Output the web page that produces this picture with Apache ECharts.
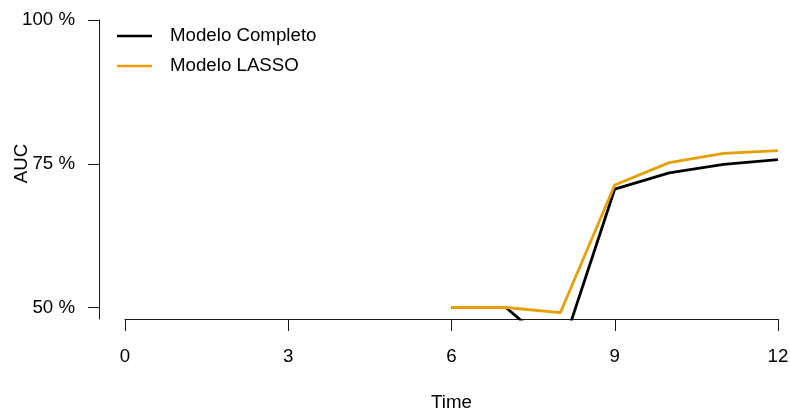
<!DOCTYPE html>
<html>
<head>
<meta charset="utf-8">
<script src="https://cdn.jsdelivr.net/npm/echarts@6/dist/echarts.min.js"></script>
<style>
  html, body { margin: 0; padding: 0; background: #fff; }
  #chart { width: 790px; height: 409px; }
</style>
</head>
<body>
<div id="chart"></div>
<script>
// Time points and AUC (%) for each model
const times = [0, 1, 2, 3, 4, 5, 6, 7, 8, 9, 10, 11, 12];
const aucCompleto = [null, null, null, null, null, null, 50.0, 50.0, 41.9, 70.6, 73.4, 74.9, 75.7];
const aucLasso    = [null, null, null, null, null, null, 50.0, 50.0, 49.1, 71.3, 75.2, 76.8, 77.3];
const xTicks = [0, 3, 6, 9, 12];
const yTicks = [50, 75, 100];
const seriesNames = ['Modelo Completo', 'Modelo LASSO'];
const seriesColors = ['#000000', '#E69F00'];

const FONT = 'Liberation Sans, Arial, sans-serif';
const FS = 18.7;
const INK = '#1a1a1a';

const pairs = (ys) => times.map((t, i) => [t, ys[i]]).filter(p => p[1] !== null);

const chart = echarts.init(document.getElementById('chart'), null, { renderer: 'canvas' });
chart.setOption({
  animation: false,
  backgroundColor: '#ffffff',
  textStyle: { fontFamily: FONT, color: '#000' },
  grid: { left: 125, right: 12, top: 20, bottom: 90, containLabel: false, outerBoundsMode: 'none' },
  legend: {
    orient: 'vertical',
    left: 117,
    top: 25,
    padding: 0,
    icon: 'rect',
    itemWidth: 35,
    itemHeight: 2.6,
    itemGap: 8,
    data: seriesNames,
    textStyle: { fontFamily: FONT, fontSize: FS, color: '#000', lineHeight: 22, padding: [0, 0, 0, 13] }
  },
  xAxis: {
    type: 'value',
    min: 0,
    max: 12,
    name: 'Time',
    nameLocation: 'middle',
    nameGap: 74,
    nameMoveOverlap: false,
    nameTextStyle: { fontFamily: FONT, fontSize: FS, color: '#000', lineHeight: 20 },
    axisLine: { show: true, onZero: false, lineStyle: { color: INK, width: 1 } },
    axisTick: { show: true, length: 12, lineStyle: { color: INK, width: 1 }, customValues: xTicks },
    axisLabel: { fontFamily: FONT, fontSize: FS, color: '#000', margin: 28, lineHeight: 20, customValues: xTicks },
    splitLine: { show: false }
  },
  yAxis: {
    type: 'value',
    min: 48,
    max: 100,
    offset: 26,
    name: 'AUC',
    nameLocation: 'middle',
    nameRotate: 90,
    nameGap: 68,
    nameMoveOverlap: false,
    nameTextStyle: { fontFamily: FONT, fontSize: FS, color: '#000', padding: [0, 0, 0, 12] },
    axisLine: { show: true, onZero: false, lineStyle: { color: INK, width: 1 } },
    axisTick: { show: true, length: 11, lineStyle: { color: INK, width: 1 }, customValues: yTicks },
    axisLabel: {
      fontFamily: FONT, fontSize: FS, color: '#000', margin: 24,
      customValues: yTicks,
      formatter: (v) => v + ' %'
    },
    splitLine: { show: false }
  },
  series: seriesNames.map((name, i) => ({
    name: name,
    type: 'line',
    data: pairs(i === 0 ? aucCompleto : aucLasso),
    symbol: 'none',
    clip: true,
    lineStyle: { color: seriesColors[i], width: 2.8 },
    itemStyle: { color: seriesColors[i] },
    z: i === 0 ? 2 : 3
  }))
});
</script>
</body>
</html>
